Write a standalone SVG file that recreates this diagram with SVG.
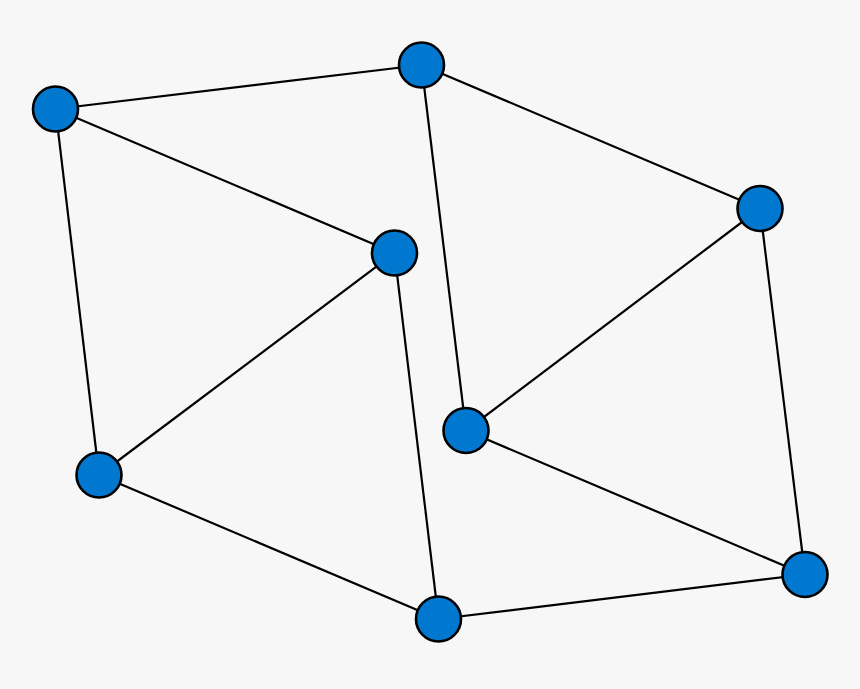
<svg xmlns="http://www.w3.org/2000/svg" width="860" height="689" viewBox="0 0 860 689">
<style>
.edge{stroke:#000;stroke-width:2.2;fill:none}
.node{fill:#0078cf;stroke:#000;stroke-width:2.6}
</style>
<rect width="860" height="689" fill="#f7f7f7"/>
<g id="edges">
<line class="edge" x1="55.5" y1="109" x2="421.5" y2="65"/>
<line class="edge" x1="55.5" y1="109" x2="394.5" y2="253"/>
<line class="edge" x1="55.5" y1="109" x2="99" y2="475"/>
<line class="edge" x1="421.5" y1="65" x2="760" y2="208.5"/>
<line class="edge" x1="421.5" y1="65" x2="466" y2="430.5"/>
<line class="edge" x1="760" y1="208.5" x2="466" y2="430.5"/>
<line class="edge" x1="760" y1="208.5" x2="805" y2="574.5"/>
<line class="edge" x1="394.5" y1="253" x2="99" y2="475"/>
<line class="edge" x1="394.5" y1="253" x2="438.5" y2="619"/>
<line class="edge" x1="99" y1="475" x2="438.5" y2="619"/>
<line class="edge" x1="466" y1="430.5" x2="805" y2="574.5"/>
<line class="edge" x1="438.5" y1="619" x2="805" y2="574.5"/>
</g>
<g id="n1"><circle class="node" cx="55.5" cy="109" r="22.5"/></g>
<g id="n2"><circle class="node" cx="421.5" cy="65" r="22.5"/></g>
<g id="n3"><circle class="node" cx="760" cy="208.5" r="22.5"/></g>
<g id="n4"><circle class="node" cx="394.5" cy="253" r="22.5"/></g>
<g id="n5"><circle class="node" cx="466" cy="430.5" r="22.5"/></g>
<g id="n6"><circle class="node" cx="99" cy="475" r="22.5"/></g>
<g id="n7"><circle class="node" cx="438.5" cy="619" r="22.5"/></g>
<g id="n8"><circle class="node" cx="805" cy="574.5" r="22.5"/></g>
</svg>
